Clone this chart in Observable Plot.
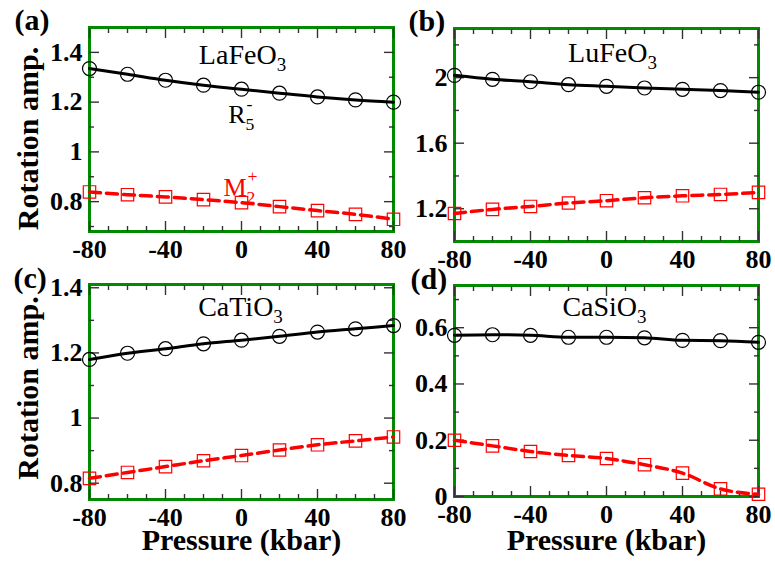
<!DOCTYPE html>
<html><head><meta charset="utf-8">
<script src="https://cdn.jsdelivr.net/npm/d3@7"></script>
<script src="https://cdn.jsdelivr.net/npm/@observablehq/plot@0.6"></script>
<style>
body{margin:0;background:#fff;}
#chart{position:relative;width:775px;height:567px;overflow:hidden;background:#fff;}
#chart svg{position:absolute;left:0;top:0;}
</style></head><body><div id="chart"></div>
<script>
// ---- data ----
const pressure = [-80, -60, -40, -20, 0, 20, 40, 60, 80];
const laFeO3_R5 = [1.335, 1.312, 1.288, 1.268, 1.252, 1.236, 1.221, 1.209, 1.200];
const laFeO3_M2 = [0.839, 0.828, 0.819, 0.808, 0.796, 0.780, 0.764, 0.749, 0.729];
const luFeO3_R5 = [2.014, 1.990, 1.975, 1.957, 1.947, 1.937, 1.929, 1.921, 1.911];
const luFeO3_M2 = [1.171, 1.196, 1.214, 1.235, 1.249, 1.267, 1.279, 1.287, 1.300];
const caTiO3_R5 = [1.180, 1.199, 1.213, 1.228, 1.239, 1.251, 1.264, 1.274, 1.284];
const caTiO3_M2 = [0.815, 0.833, 0.851, 0.869, 0.885, 0.902, 0.918, 0.930, 0.942];
const caSiO3_R5 = [0.573, 0.575, 0.573, 0.566, 0.566, 0.564, 0.555, 0.554, 0.548];
const caSiO3_M2 = [0.200, 0.180, 0.160, 0.146, 0.135, 0.113, 0.083, 0.027, 0.008];

const compoundNames = ["LaFeO_3", "LuFeO_3", "CaTiO_3", "CaSiO_3"];
const panelLetters = ["(a)", "(b)", "(c)", "(d)"];
const modeNames = ["R_5^-", "M_2^+"];
const modeLabelP = [-7, -9.5];
const modeLabelV = [1.116, 0.824];

const xMajor = [-80, -40, 0, 40, 80];
const xMinor = [-70, -60, -50, -30, -20, -10, 10, 20, 30, 50, 60, 70];
const yMajorA = [0.8, 1, 1.2, 1.4], yMinorA = [0.7, 0.9, 1.1, 1.3];
const yMajorB = [1.2, 1.6, 2], yMinorB = [1.4, 1.8, 2.2];
const yMajorC = [0.8, 1, 1.2, 1.4], yMinorC = [0.9, 1.1, 1.3];
const yMajorD = [0, 0.2, 0.4, 0.6], yMinorD = [0.1, 0.3, 0.5, 0.7];

const yTitle = "Rotation amp.";
const xTitle = "Pressure (kbar)";

// ---- layout ----
const W = 775, H = 567;
const FONT = "'Liberation Serif', 'Times New Roman', serif";
const GREEN = "#008b00";
const TICK = "#333";

const panels = [
  {r5: laFeO3_R5, m2: laFeO3_M2, domain: [0.68, 1.5], major: yMajorA, minor: yMinorA,
   frame: [89, 393, 27, 231], letterX: 14, letterBase: 29, nameDx: 1, nameBase: 63,
   yTitleDy: 9, showYTitle: true, showXTitle: false, modes: true},
  {r5: luFeO3_R5, m2: luFeO3_M2, domain: [1.0, 2.3], major: yMajorB, minor: yMinorB,
   frame: [454, 758, 28, 241], letterX: 408, letterBase: 30, nameDx: 6, nameBase: 61,
   showYTitle: false, showXTitle: false},
  {r5: caTiO3_R5, m2: caTiO3_M2, domain: [0.75, 1.41], major: yMajorC, minor: yMinorC,
   frame: [89, 393, 284, 499], letterX: 13, letterBase: 287, nameDx: -1, nameBase: 315,
   yTitleDy: -4, showYTitle: true, showXTitle: true},
  {r5: caSiO3_R5, m2: caSiO3_M2, domain: [0, 0.75], major: yMajorD, minor: yMinorD,
   frame: [454, 758, 285, 496], letterX: 410, letterBase: 288, nameDx: -2, nameBase: 315,
   showYTitle: false, showXTitle: true}
];

const chart = document.getElementById("chart");

function richText(svg) {
  d3.select(svg).selectAll("text").each(function () {
    const t = this.textContent;
    const m = /^([^_^]+)(?:_([^_^]))?(?:\^([^_^]))?$/.exec(t);
    if (!m || (!m[2] && !m[3])) return;
    const sel = d3.select(this);
    sel.text(null);
    sel.append("tspan").text(m[1]);
    if (m[2]) sel.append("tspan").attr("font-size", "0.68em").attr("dy", "0.4em").text(m[2]);
    if (m[3]) sel.append("tspan").attr("font-size", "0.68em").attr("dx", m[2] ? "-0.45em" : null)
      .attr("dy", m[2] ? "-1.15em" : "-0.7em").text(m[3]);
  });
}

panels.forEach((p, i) => {
  const [L, R, T, B] = p.frame;
  const data = pressure.map((x, j) => ({x, r5: p.r5[j], m2: p.m2[j]}));
  const tickOpts = {fill: "none", label: null, stroke: TICK, strokeWidth: 1.4};
  const marks = [
    Plot.frame({stroke: GREEN, strokeWidth: 3}),
    // inward ticks on all four sides
    Plot.axisX(xMajor, {anchor: "bottom", tickSize: 10, dy: -10, ...tickOpts}),
    Plot.axisX(xMinor, {anchor: "bottom", tickSize: 5, dy: -5, ...tickOpts}),
    Plot.axisX(xMajor, {anchor: "top", tickSize: 10, dy: 10, ...tickOpts}),
    Plot.axisX(xMinor, {anchor: "top", tickSize: 5, dy: 5, ...tickOpts}),
    Plot.axisY(p.major, {anchor: "left", tickSize: 10, dx: 10, ...tickOpts}),
    Plot.axisY(p.minor, {anchor: "left", tickSize: 5, dx: 5, ...tickOpts}),
    Plot.axisY(p.major, {anchor: "right", tickSize: 10, dx: -10, ...tickOpts}),
    Plot.axisY(p.minor, {anchor: "right", tickSize: 5, dx: -5, ...tickOpts}),
    // tick labels
    Plot.axisX(xMajor, {anchor: "bottom", tickSize: 0, tickPadding: 8, label: null,
      tickFormat: d => String(d), fontSize: 26, fontWeight: "bold", fontFamily: FONT, fill: "black"}),
    Plot.axisY(p.major, {anchor: "left", tickSize: 0, tickPadding: 7, label: null,
      tickFormat: d => String(d), fontSize: 26, fontWeight: "bold", fontFamily: FONT, fill: "black"}),
    // data
    Plot.line(data, {x: "x", y: "r5", stroke: "black", strokeWidth: 3, curve: "monotone-x"}),
    Plot.line(data, {x: "x", y: "m2", stroke: "#ff0000", strokeWidth: 3.5, strokeDasharray: "11,6", curve: "monotone-x"}),
    Plot.dot(data, {x: "x", y: "r5", r: 7, stroke: "black", strokeWidth: 1.2, fill: "none"}),
    Plot.dot(data, {x: "x", y: "m2", symbol: "square", r: 7, stroke: "#ff0000", strokeWidth: 1.2, fill: "none"}),
    // labels
    Plot.text([compoundNames[i]], {text: d => d, frameAnchor: "top", dx: p.nameDx, dy: p.nameBase - T,
      textAnchor: "middle", lineAnchor: "bottom", fontSize: 28, fontFamily: FONT, fill: "black"}),
    Plot.text([panelLetters[i]], {text: d => d, frameAnchor: "top-left", dx: p.letterX - L, dy: p.letterBase - T,
      textAnchor: "start", lineAnchor: "bottom", fontSize: 30, fontWeight: "bold", fontFamily: FONT, fill: "black"})
  ];
  if (p.showYTitle) marks.push(Plot.text([yTitle], {text: d => d, frameAnchor: "left", dx: 37 - L, dy: p.yTitleDy,
    rotate: -90, textAnchor: "middle", lineAnchor: "bottom", fontSize: 30, fontWeight: "bold", fontFamily: FONT, fill: "black"}));
  if (p.showXTitle) marks.push(Plot.text([xTitle], {text: d => d, frameAnchor: "bottom", dy: 549 - B,
    textAnchor: "middle", lineAnchor: "bottom", fontSize: 30, fontWeight: "bold", fontFamily: FONT, fill: "black"}));
  if (p.modes) {
    marks.push(Plot.text([modeNames[0]], {text: d => d, x: () => modeLabelP[0], y: () => modeLabelV[0],
      textAnchor: "start", lineAnchor: "bottom", fontSize: 26, fontFamily: FONT, fill: "black"}));
    marks.push(Plot.text([modeNames[1]], {text: d => d, x: () => modeLabelP[1], y: () => modeLabelV[1],
      textAnchor: "start", lineAnchor: "bottom", fontSize: 26, fontFamily: FONT, fill: "#ff0000"}));
  }
  const svg = Plot.plot({
    width: W, height: H,
    marginLeft: L, marginRight: W - R, marginTop: T, marginBottom: H - B,
    x: {domain: [-80, 80]},
    y: {domain: p.domain},
    style: {background: "transparent", overflow: "visible"},
    marks
  });
  richText(svg);
  chart.appendChild(svg);
});
</script></body></html>
